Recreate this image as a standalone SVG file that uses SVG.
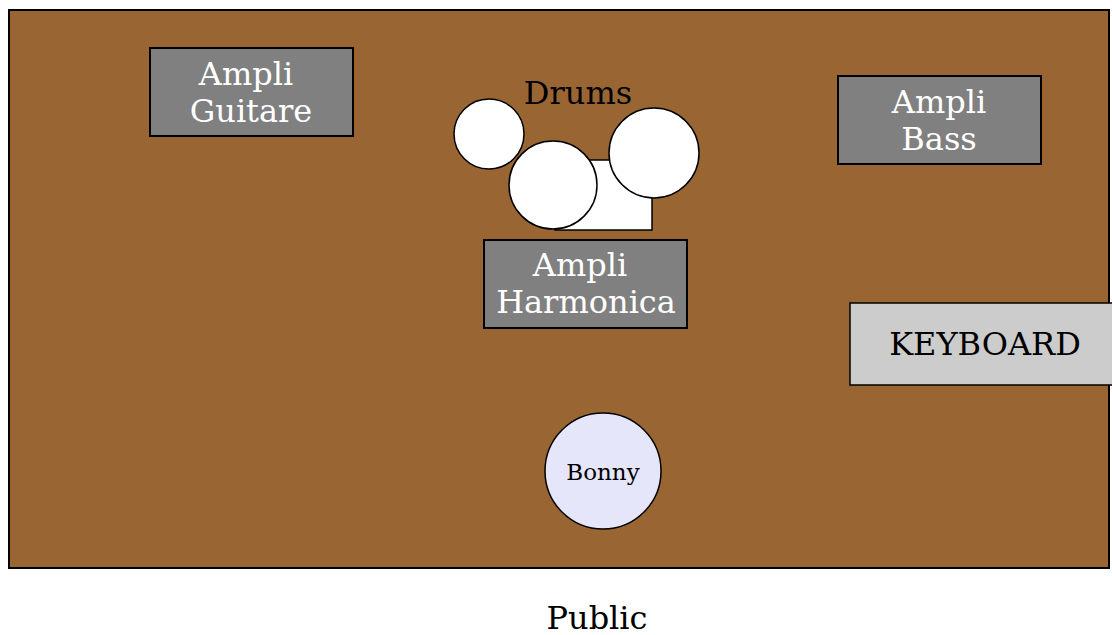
<svg xmlns="http://www.w3.org/2000/svg" width="1112" height="635" viewBox="0 0 1112 635">
<style>
text{font-family:"DejaVu Serif",serif;text-anchor:middle}
.amp{fill:#808080;stroke:#000;stroke-width:2}
.amp-t{fill:#fff;font-size:32px}
.drum{fill:#fff;stroke:#000;stroke-width:1.5}
</style>
<rect id="stage" x="9" y="10" width="1100" height="558" fill="#996633" stroke="#000" stroke-width="2"/>
<g id="ampli-guitare"><rect class="amp" x="150" y="48" width="203" height="88"/><text class="amp-t" x="246" y="85">Ampli</text><text class="amp-t" x="251" y="122">Guitare</text></g>
<g id="drums">
<text x="578" y="104" font-size="32" fill="#000">Drums</text>
<rect class="drum" x="555" y="160" width="97" height="70"/>
<circle class="drum" cx="489" cy="134" r="35"/>
<circle class="drum" cx="553" cy="185" r="44"/>
<circle class="drum" cx="654" cy="153" r="45"/>
</g>
<g id="ampli-harmonica"><rect class="amp" x="484" y="240" width="203" height="88"/><text class="amp-t" x="580" y="276">Ampli</text><text class="amp-t" x="586" y="313">Harmonica</text></g>
<g id="ampli-bass"><rect class="amp" x="838" y="76" width="203" height="88"/><text class="amp-t" x="939" y="113">Ampli</text><text class="amp-t" x="939" y="150">Bass</text></g>
<g id="keyboard"><rect x="850" y="303" width="264" height="82" fill="#cccccc" stroke="#000" stroke-width="1.5"/><text x="985" y="355" font-size="32" fill="#000">KEYBOARD</text></g>
<g id="bonny"><circle cx="603" cy="471" r="58" fill="#e6e6fa" stroke="#000" stroke-width="1.5"/><text x="603" y="480" font-size="23" fill="#000">Bonny</text></g>
<g id="public"><text x="597" y="629" font-size="32" fill="#000">Public</text></g>
<g id="connectors"/>
</svg>
